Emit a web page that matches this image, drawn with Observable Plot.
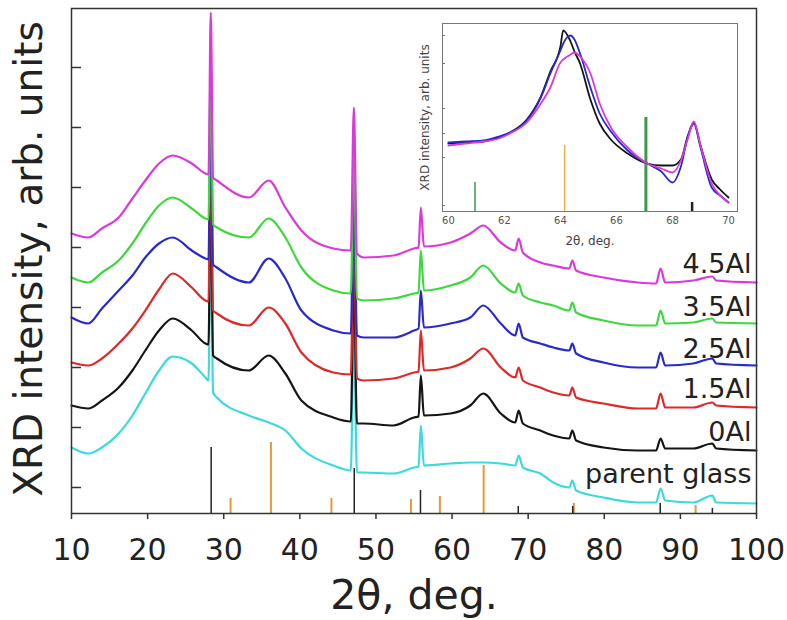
<!DOCTYPE html>
<html>
<head>
<meta charset="utf-8">
<script src="https://cdn.jsdelivr.net/npm/d3@7"></script>
<script src="https://cdn.jsdelivr.net/npm/@observablehq/plot@0.6"></script>
<style>
  html, body { margin: 0; padding: 0; background: #fff; }
  #wrap { position: relative; width: 787px; height: 620px; }
  #inset { position: absolute; left: 400px; top: 15px; }
</style>
</head>
<body>
<div id="wrap"><div id="main"></div><div id="inset"></div></div>
<script>
// ---------- main chart data (2θ in degrees, intensity in arb. units) ----------
const theta = [10, 12.2, 14, 16.2, 18, 19.7, 21.5, 23.3, 25.8, 27.6, 28.0, 28.3, 28.6, 29.1, 33.3, 35.9, 38.1, 40.2, 44.4, 46.7, 47.1, 47.5, 48.4, 52.3, 55.0, 55.6, 55.9, 56.3, 59.8, 62.4, 64.1, 66.4, 68.3, 68.75, 69.3, 71.6, 73.3, 75.4, 75.8, 76.3, 79.9, 84.4, 86.8, 87.4, 88.0, 91.7, 94.2, 94.7, 100];

const al45 = [280, 276, 285, 296, 315, 333, 350, 358, 350, 340, 339, 501, 336, 333, 316, 333, 306, 283, 265, 263, 406, 260, 256, 258, 265, 266, 306, 267, 271, 280, 288, 271, 263, 275, 261, 251, 248, 245, 253, 243, 236, 231, 230, 245, 231, 233, 237, 233, 231];
const al35 = [236, 231, 241, 253, 270, 290, 308, 316, 305, 295, 294, 456, 289, 286, 276, 295, 276, 246, 223, 220, 365, 215, 213, 215, 220, 221, 263, 223, 228, 236, 248, 230, 221, 230, 218, 211, 208, 203, 211, 201, 193, 188, 188, 203, 190, 191, 195, 191, 190];
const al25 = [196, 190, 205, 223, 238, 256, 270, 276, 263, 255, 254, 416, 249, 246, 231, 255, 235, 203, 183, 180, 325, 178, 176, 176, 183, 185, 223, 186, 190, 196, 208, 190, 178, 190, 176, 170, 166, 163, 170, 160, 151, 146, 146, 161, 148, 150, 155, 150, 148];
const al15 = [151, 148, 155, 170, 185, 203, 224, 240, 226, 213, 212, 374, 203, 200, 188, 206, 190, 161, 141, 139, 283, 135, 133, 135, 141, 142, 183, 143, 146, 155, 165, 146, 136, 146, 133, 126, 121, 118, 126, 116, 110, 105, 105, 120, 106, 106, 111, 108, 106];
const al0 = [108, 105, 113, 126, 143, 163, 183, 195, 183, 170, 169, 331, 158, 155, 143, 158, 140, 113, 96, 92, 238, 90, 90, 88, 96, 97, 138, 98, 100, 108, 120, 100, 91, 103, 90, 83, 78, 75, 83, 73, 66, 63, 63, 75, 65, 65, 70, 65, 63];
const parentGlass = [66, 60, 66, 80, 98, 120, 143, 157, 150, 136, 133, 297, 121, 116, 98, 91, 83, 65, 48, 43, 191, 41, 41, 40, 46, 47, 88, 48, 50, 51, 51, 50, 48, 58, 46, 40, 31, 26, 33, 23, 16, 11, 11, 25, 13, 11, 18, 11, 10];

const seriesNames = ["4.5Al", "3.5Al", "2.5Al", "1.5Al", "0Al", "parent glass"];
const seriesColors = ["#d93ad9", "#3ed83e", "#2a2ac8", "#dc2a2a", "#151515", "#3cdada"];
const seriesValues = [al45, al35, al25, al15, al0, parentGlass];
const labelLevel = [241, 198, 156, 116, 73, 31];

// reference pattern sticks
const blackStickTheta = [28.35, 47.15, 55.85, 68.7, 75.85, 87.35, 94.2];
const blackStickI = [66, 45, 23, 7, 7, 10, 5];
const orangeStickTheta = [30.9, 36.2, 44.15, 54.6, 58.4, 64.15, 76.0, 92.0];
const orangeStickI = [15, 71, 15, 14, 17, 48, 10, 8];

const xTicks = [10, 20, 30, 40, 50, 60, 70, 80, 90, 100];
const yTicks = [26, 86, 146, 206, 266, 326, 386, 446];

// ---------- inset data ----------
const insetTheta = [60.0, 60.6, 61.25, 61.8, 62.2, 62.8, 63.3, 63.64, 64.0, 64.1, 64.36, 64.5, 64.7, 65.07, 65.4, 65.8, 66.4, 67.1, 67.6, 68.0, 68.3, 68.55, 68.76, 69.0, 69.4, 69.7, 70.0];
const insetBlack = [68, 69, 70, 74, 79, 92, 115, 140, 165, 181, 170, 160, 148, 112, 88, 72, 58, 48, 46, 46, 52, 76, 89, 66, 32, 22, 14];
const insetBlue = [69, 70, 71, 75, 79, 91, 114, 138, 161, 168, 176, 172, 158, 124, 98, 80, 61, 48, 40, 29, 45, 75, 88, 64, 24, 16, 9];
const insetMagenta = [66, 68, 70, 73, 78, 89, 108, 124, 149, 152, 157, 159, 155, 138, 108, 84, 64, 48, 43, 39, 51, 73, 90, 66, 28, 16, 9];
const insetGreenTheta = [60.95, 67.05];
const insetGreenI = [29, 94];
const insetOrangeTheta = [64.15];
const insetOrangeI = [66];
const insetBlackStickTheta = [68.7];
const insetBlackStickI = [9];
const insetXTicks = [60, 62, 64, 66, 68, 70];
const insetYTicks = [6, 54, 78, 103, 148, 176];

// ---------- build tables ----------
const rows = (xs, ys) => xs.map((x, i) => ({x, y: ys[i]}));
const FONT = "DejaVu Sans";

const lineMarks = [];
for (let k = seriesValues.length - 1; k >= 0; --k) {
  lineMarks.push(Plot.line(rows(theta, seriesValues[k]), {x: "x", y: "y", stroke: seriesColors[k], strokeWidth: 2.2, curve: "monotone-x"}));
}
const labels = seriesNames.map((name, i) => ({name, y: labelLevel[i]}));

const main = Plot.plot({
  width: 787, height: 620,
  marginLeft: 71, marginRight: 31, marginTop: 8, marginBottom: 107,
  x: {domain: [10, 100]},
  y: {domain: [0, 505]},
  style: {fontFamily: FONT, background: "white", color: "#222"},
  marks: [
    Plot.ruleX(rows(orangeStickTheta, orangeStickI), {x: "x", y1: 0, y2: "y", stroke: "#e39a3b", strokeWidth: 2}),
    Plot.ruleX(rows(blackStickTheta, blackStickI), {x: "x", y1: 0, y2: "y", stroke: "#222", strokeWidth: 1.5}),
    ...lineMarks,
    Plot.frame({stroke: "#333", strokeWidth: 1.5}),
    Plot.axisX({ticks: xTicks, tickSize: 6, tickPadding: 19, fontSize: 30, label: null, stroke: "#333", strokeWidth: 1.5}),
    Plot.axisY({ticks: yTicks, tickSize: 10, dx: 10, tickFormat: () => "", label: null, stroke: "#333", strokeWidth: 1.5}),
    Plot.text(labels, {x: 100, y: "y", text: "name", textAnchor: "end", lineAnchor: "bottom", dx: -5, fontSize: 27, fill: "#222"}),
    Plot.text(["2θ, deg."], {frameAnchor: "bottom", lineAnchor: "middle", dy: 82, fontSize: 41, fill: "#222"}),
    Plot.text(["XRD intensity, arb. units"], {frameAnchor: "left", textAnchor: "middle", lineAnchor: "middle", rotate: -90, dx: -42, dy: -2, fontSize: 39, fill: "#222"})
  ]
});
document.getElementById("main").append(main);

const inset = Plot.plot({
  width: 340, height: 240,
  marginLeft: 42, marginRight: 3, marginTop: 8, marginBottom: 44,
  x: {domain: [59.79, 70.32]},
  y: {domain: [0, 188]},
  style: {fontFamily: FONT, background: "transparent", color: "#444"},
  marks: [
    Plot.ruleX(rows(insetGreenTheta, insetGreenI), {x: "x", y1: 0, y2: "y", stroke: "#3a9a48", strokeWidth: d => d.y > 50 ? 3 : 1.5}),
    Plot.ruleX(rows(insetOrangeTheta, insetOrangeI), {x: "x", y1: 0, y2: "y", stroke: "#e8b04a", strokeWidth: 1.5}),
    Plot.ruleX(rows(insetBlackStickTheta, insetBlackStickI), {x: "x", y1: 0, y2: "y", stroke: "#222", strokeWidth: 2.5}),
    Plot.line(rows(insetTheta, insetBlack), {x: "x", y: "y", stroke: "#151515", strokeWidth: 1.8, curve: "monotone-x"}),
    Plot.line(rows(insetTheta, insetBlue), {x: "x", y: "y", stroke: "#2a2ac8", strokeWidth: 1.8, curve: "monotone-x"}),
    Plot.line(rows(insetTheta, insetMagenta), {x: "x", y: "y", stroke: "#d93ad9", strokeWidth: 1.8, curve: "monotone-x"}),
    Plot.frame({stroke: "#777", strokeWidth: 1}),
    Plot.axisX({ticks: insetXTicks, tickSize: 0, tickPadding: 5, fontSize: 10, label: null, fill: "#555"}),
    Plot.axisY({ticks: insetYTicks, tickSize: 3, dx: 3, tickFormat: () => "", label: null, stroke: "#777"}),
    Plot.text(["2θ, deg."], {frameAnchor: "bottom", lineAnchor: "middle", dy: 30, fontSize: 12, fill: "#444"}),
    Plot.text(["XRD intensity, arb. units"], {frameAnchor: "left", textAnchor: "middle", lineAnchor: "middle", rotate: -90, dx: -17, fontSize: 12, fill: "#444"})
  ]
});
document.getElementById("inset").append(inset);
</script>
</body>
</html>
